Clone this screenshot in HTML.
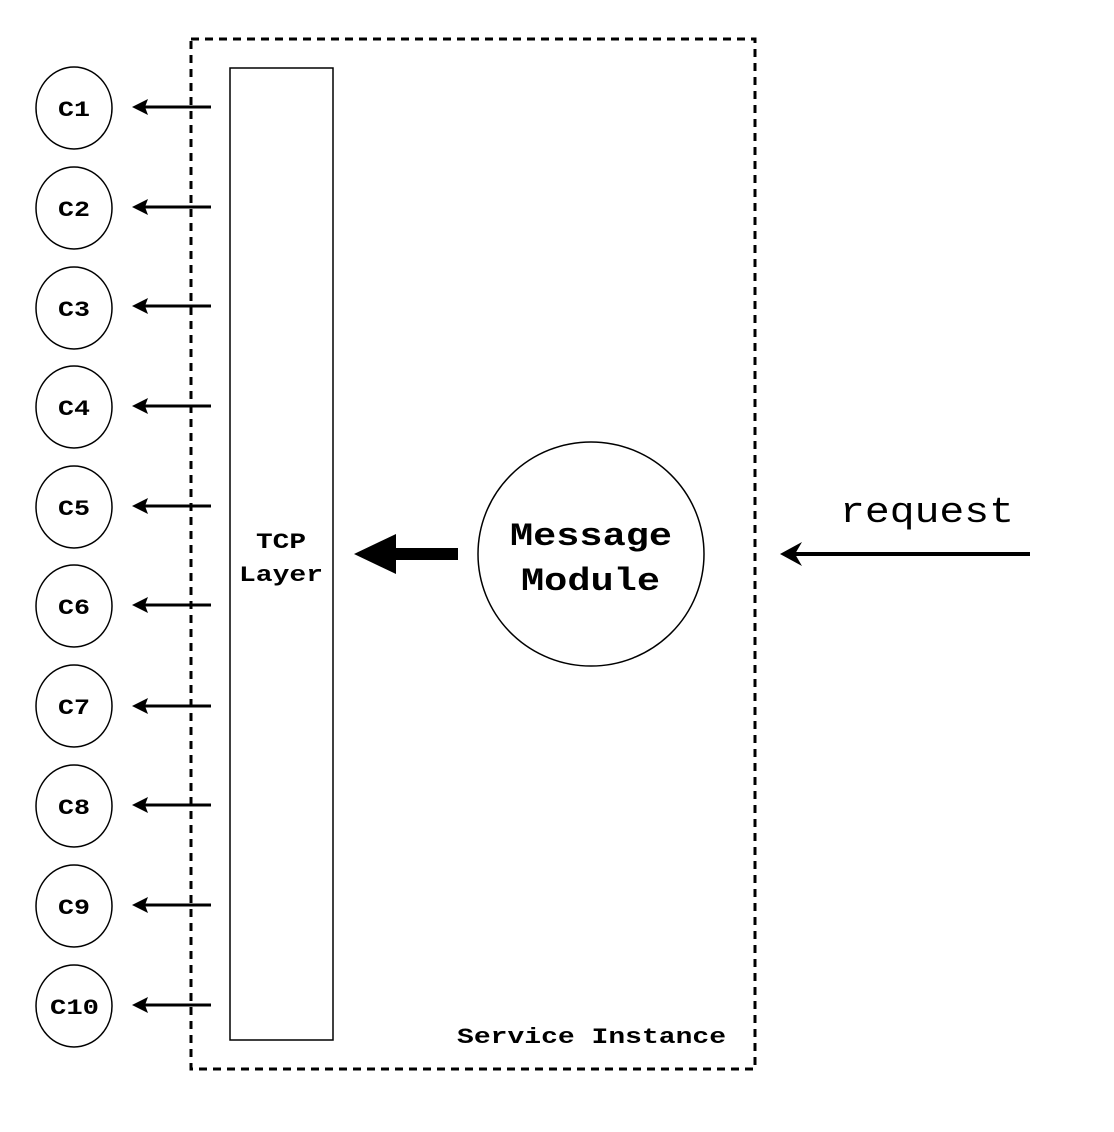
<!DOCTYPE html>
<html><head><meta charset="utf-8"><style>html,body{margin:0;padding:0;background:#fff}svg{display:block}</style></head>
<body>
<svg width="1114" height="1132" viewBox="0 0 1114 1132" xmlns="http://www.w3.org/2000/svg" font-family="'Liberation Mono', monospace">
<rect x="191" y="39" width="564" height="1030" fill="none" stroke="#000" stroke-width="3" stroke-dasharray="8,6"/>
<rect x="230" y="68" width="103" height="972" fill="#fff" stroke="#000" stroke-width="1.5"/>
<g font-weight="bold" font-size="22">
<text x="256" y="548" textLength="50" lengthAdjust="spacingAndGlyphs">TCP</text>
<text x="239" y="581" textLength="84" lengthAdjust="spacingAndGlyphs">Layer</text>
</g>
<g stroke="#000">
<g fill="#fff" stroke-width="1.5">
<ellipse cx="74" cy="108" rx="38" ry="41"/>
<ellipse cx="74" cy="208" rx="38" ry="41"/>
<ellipse cx="74" cy="308" rx="38" ry="41"/>
<ellipse cx="74" cy="407" rx="38" ry="41"/>
<ellipse cx="74" cy="507" rx="38" ry="41"/>
<ellipse cx="74" cy="606" rx="38" ry="41"/>
<ellipse cx="74" cy="706" rx="38" ry="41"/>
<ellipse cx="74" cy="806" rx="38" ry="41"/>
<ellipse cx="74" cy="906" rx="38" ry="41"/>
<ellipse cx="74" cy="1006" rx="38" ry="41"/>
</g>
<g stroke-width="3">
<line x1="145" y1="107" x2="211" y2="107"/>
<line x1="145" y1="207" x2="211" y2="207"/>
<line x1="145" y1="306" x2="211" y2="306"/>
<line x1="145" y1="406" x2="211" y2="406"/>
<line x1="145" y1="506" x2="211" y2="506"/>
<line x1="145" y1="605" x2="211" y2="605"/>
<line x1="145" y1="706" x2="211" y2="706"/>
<line x1="145" y1="805" x2="211" y2="805"/>
<line x1="145" y1="905" x2="211" y2="905"/>
<line x1="145" y1="1005" x2="211" y2="1005"/>
</g>
</g>
<g fill="#000">
<path d="M132 107 L148 99 L145 107 L148 115Z"/>
<path d="M132 207 L148 199 L145 207 L148 215Z"/>
<path d="M132 306 L148 298 L145 306 L148 314Z"/>
<path d="M132 406 L148 398 L145 406 L148 414Z"/>
<path d="M132 506 L148 498 L145 506 L148 514Z"/>
<path d="M132 605 L148 597 L145 605 L148 613Z"/>
<path d="M132 706 L148 698 L145 706 L148 714Z"/>
<path d="M132 805 L148 797 L145 805 L148 813Z"/>
<path d="M132 905 L148 897 L145 905 L148 913Z"/>
<path d="M132 1005 L148 997 L145 1005 L148 1013Z"/>
</g>
<g font-weight="bold" font-size="22">
<text x="58" y="116" textLength="32" lengthAdjust="spacingAndGlyphs">C1</text>
<text x="58" y="216" textLength="32" lengthAdjust="spacingAndGlyphs">C2</text>
<text x="58" y="316" textLength="32" lengthAdjust="spacingAndGlyphs">C3</text>
<text x="58" y="415" textLength="32" lengthAdjust="spacingAndGlyphs">C4</text>
<text x="58" y="515" textLength="32" lengthAdjust="spacingAndGlyphs">C5</text>
<text x="58" y="614" textLength="32" lengthAdjust="spacingAndGlyphs">C6</text>
<text x="58" y="714" textLength="32" lengthAdjust="spacingAndGlyphs">C7</text>
<text x="58" y="814" textLength="32" lengthAdjust="spacingAndGlyphs">C8</text>
<text x="58" y="914" textLength="32" lengthAdjust="spacingAndGlyphs">C9</text>
<text x="50" y="1014" textLength="49" lengthAdjust="spacingAndGlyphs">C10</text>
</g>
<ellipse cx="591" cy="554" rx="113" ry="112" fill="#fff" stroke="#000" stroke-width="1.5"/>
<g font-weight="bold" font-size="32">
<text x="510" y="545" textLength="162" lengthAdjust="spacingAndGlyphs">Message</text>
<text x="521" y="590" textLength="139" lengthAdjust="spacingAndGlyphs">Module</text>
</g>
<rect x="393" y="548" width="65" height="12" fill="#000"/>
<path d="M354 554 L396 534 L396 574Z" fill="#000"/>
<line x1="790" y1="554" x2="1030" y2="554" stroke="#000" stroke-width="4"/>
<path d="M780 554 L802 542 L795 554 L802 566Z" fill="#000"/>
<text x="840" y="522" font-size="36" textLength="174" lengthAdjust="spacingAndGlyphs">request</text>
<text x="457" y="1043" font-weight="bold" font-size="22" textLength="269" lengthAdjust="spacingAndGlyphs">Service Instance</text>
</svg>
</body></html>
